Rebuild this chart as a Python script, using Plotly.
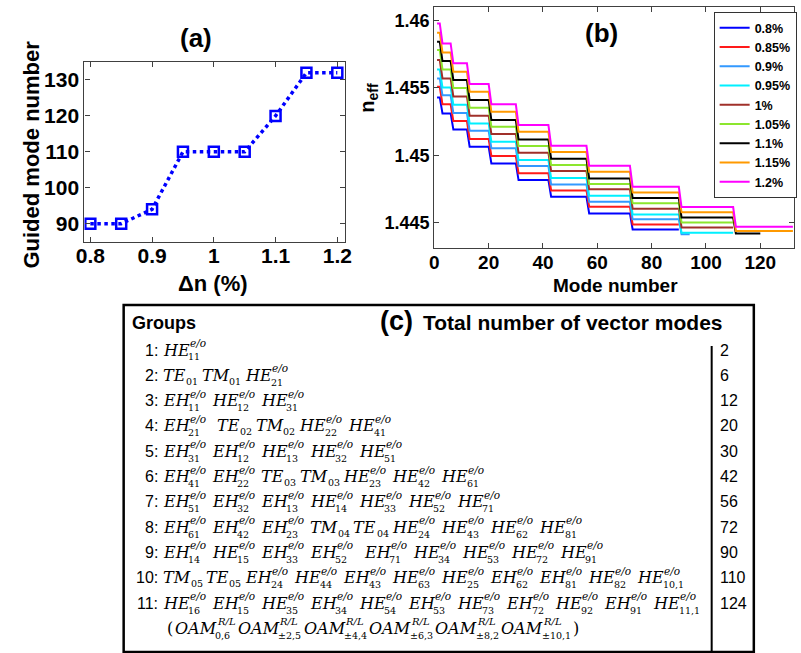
import plotly.graph_objects as go

W, H = 801, 653
SANS = "Liberation Sans, Arial, sans-serif"
MATH = "DejaVu Serif, serif"

# ---------------- panel (a) data ----------------
delta_n_pct = [0.8, 0.85, 0.9, 0.95, 1.0, 1.05, 1.1, 1.15, 1.2]
guided_mode_number = [90, 90, 94, 110, 110, 110, 120, 132, 132]

# ---------------- panel (b) data ----------------
legend_labels = ["0.8%", "0.85%", "0.9%", "0.95%", "1%", "1.05%", "1.1%", "1.15%", "1.2%"]
line_colors = ["#0000FF", "#FF1A1A", "#3399FF", "#00F0FF", "#A0302A",
               "#8CE62E", "#000000", "#FF9900", "#FF00FF"]
group_last_mode = [2, 6, 12, 20, 30, 42, 56, 72, 90, 110, 132]
neff_0p80 = [1.45430, 1.45311, 1.45192, 1.45063, 1.44939, 1.44815, 1.44691, 1.44567, 1.44448]
neff_0p85 = [1.45509, 1.45378, 1.45254, 1.45120, 1.44994, 1.44865, 1.44738, 1.44617, 1.44485]
neff_0p90 = [1.45571, 1.45445, 1.45313, 1.45182, 1.45051, 1.44919, 1.44783, 1.44654, 1.44523, 1.44413]
neff_0p95 = [1.45638, 1.45504, 1.45375, 1.45236, 1.45100, 1.44964, 1.44830, 1.44699, 1.44560, 1.44423]
neff_1p00 = [1.45707, 1.45571, 1.45437, 1.45294, 1.45157, 1.45018, 1.44882, 1.44746, 1.44602, 1.44463]
neff_1p05 = [1.45782, 1.45638, 1.45499, 1.45353, 1.45212, 1.45068, 1.44927, 1.44785, 1.44642, 1.44500]
neff_1p10 = [1.45844, 1.45700, 1.45559, 1.45410, 1.45261, 1.45117, 1.44974, 1.44827, 1.44681, 1.44537, 1.44418]
neff_1p15 = [1.45911, 1.45764, 1.45621, 1.45472, 1.45323, 1.45175, 1.45023, 1.44877, 1.44723, 1.44575, 1.44436]
neff_1p20 = [1.45980, 1.45831, 1.45683, 1.45529, 1.45378, 1.45224, 1.45070, 1.44922, 1.44765, 1.44614, 1.44468]
neff_levels = [neff_0p80, neff_0p85, neff_0p90, neff_0p95, neff_1p00,
               neff_1p05, neff_1p10, neff_1p15, neff_1p20]

# ---------------- panel (c) data ----------------
header_left = "Groups"
header_right = "Total number of vector modes"
group_labels = ["1:", "2:", "3:", "4:", "5:", "6:", "7:", "8:", "9:", "10:", "11:"]
group_mode_lists = [
    ["HE_11^e/o"],
    ["TE_01", "TM_01", "HE_21^e/o"],
    ["EH_11^e/o", "HE_12^e/o", "HE_31^e/o"],
    ["EH_21^e/o", " ", "TE_02", "TM_02", "HE_22^e/o", "HE_41^e/o"],
    ["EH_31^e/o", "EH_12^e/o", "HE_13^e/o", "HE_32^e/o", "HE_51^e/o"],
    ["EH_41^e/o", "EH_22^e/o", "TE_03", "TM_03", "HE_23^e/o", "HE_42^e/o", "HE_61^e/o"],
    ["EH_51^e/o", "EH_32^e/o", "EH_13^e/o", "HE_14^e/o", "HE_33^e/o", "HE_52^e/o", "HE_71^e/o"],
    ["EH_61^e/o", "EH_42^e/o", "EH_23^e/o", "TM_04", "TE_04", "HE_24^e/o", "HE_43^e/o",
     "HE_62^e/o", "HE_81^e/o"],
    ["EH_14^e/o", "HE_15^e/o", "EH_33^e/o", "EH_52^e/o", " ", "EH_71^e/o", "HE_34^e/o",
     "HE_53^e/o", "HE_72^e/o", "HE_91^e/o"],
    ["TM_05", "TE_05", "EH_24^e/o", "HE_44^e/o", "EH_43^e/o", "HE_63^e/o", "HE_25^e/o",
     "EH_62^e/o", "EH_81^e/o", "HE_82^e/o", "HE_10,1^e/o"],
    ["HE_16^e/o", "EH_15^e/o", "HE_35^e/o", "EH_34^e/o", "HE_54^e/o", "EH_53^e/o", "HE_73^e/o",
     "EH_72^e/o", "HE_92^e/o", "EH_91^e/o", "HE_11,1^e/o"],
]
oam_line = ["(", "OAM_0,6^R/L", "OAM_±2,5^R/L", "OAM_±4,4^R/L", "OAM_±6,3^R/L",
            "OAM_±8,2^R/L", "OAM_±10,1^R/L", ")"]
total_vector_modes = [2, 6, 12, 20, 30, 42, 56, 72, 90, 110, 124]


# ---------------- helpers ----------------
def fx(px):
    return px / W


def fy(py):
    return 1 - py / H


annotations = []


def add_text(px, py, text, size, family=SANS, weight="normal", xanchor="left",
             yanchor="middle", angle=0):
    annotations.append(dict(
        x=fx(px), y=fy(py), xref="paper", yref="paper", text=text, showarrow=False,
        xanchor=xanchor, yanchor=yanchor, textangle=angle, borderpad=0, borderwidth=0,
        font=dict(family=family, size=size, color="black", weight=weight)))


CW = {'H': .862, 'E': .729, 'T': .714, 'M': 1.022, 'O': .786, 'A': .739, 'L': .702,
      'R': .789, 'e': .592, 'o': .602, '/': .337, ',': .318, '±': .838, '(': .479,
      ')': .479, ' ': .318}


def text_w(s, size):
    return sum(CW.get(c, .636) for c in s) * size


BASE, SUB = 16, 9.5


def layout_row(tokens, x0, yc):
    x = x0
    for tok in tokens:
        if tok == " ":
            x += 5
            continue
        if tok in ("(", ")"):
            add_text(x, yc, tok, BASE, family=MATH)
            x += text_w(tok, BASE) + 0.5
            continue
        base, rest = tok.split("_")
        if "^" in rest:
            sub, sup = rest.split("^")
        else:
            sub, sup = rest, ""
        add_text(x, yc, "<i>%s</i>" % base, BASE, family=MATH)
        bx = x + text_w(base, BASE)
        if sup:
            sup_size = 10 if base == "OAM" else 10.5
            add_text(bx + 2, yc - 7, "<i>%s</i>" % sup, sup_size, family=MATH)
            add_text(bx + 0.5, yc + 7, sub, SUB, family=MATH)
            end = max(bx + 2 + text_w(sup, sup_size), bx + 0.5 + text_w(sub, SUB))
            gap = 3 if base == "OAM" else 6.5
        else:
            add_text(bx + 0.5, yc + 6, sub, SUB, family=MATH)
            end = bx + 0.5 + text_w(sub, SUB)
            gap = 4
        x = end + gap


fig = go.Figure()

# panel (a)
fig.add_trace(go.Scatter(
    x=delta_n_pct, y=guided_mode_number, mode="lines+markers", showlegend=False,
    line=dict(color="#0000FF", width=3.5, dash="dot"),
    marker=dict(symbol="square-open", size=10, color="#0000FF", line=dict(width=2.5, color="#0000FF")),
    xaxis="x", yaxis="y"))

# panel (b)
for label, color, levels, n_modes in zip(legend_labels, line_colors, neff_levels, guided_mode_number):
    modes = list(range(1, n_modes + 1))
    vals = []
    for n in modes:
        g = next(i for i, e in enumerate(group_last_mode) if n <= e)
        vals.append(levels[g])
    fig.add_trace(go.Scatter(x=modes, y=vals, mode="lines", name=label,
                             line=dict(color=color, width=2), xaxis="x2", yaxis="y2"))

axis_common = dict(showline=True, linecolor="#404040", linewidth=1.3, mirror="ticks",
                   ticks="inside", ticklen=5, tickcolor="#404040", showgrid=False,
                   zeroline=False)

tickfont_a = dict(family=SANS, size=21, color="black", weight="bold")
tickfont_b = dict(family=SANS, size=18, color="black", weight="bold")

fig.update_layout(
    width=W, height=H, autosize=False, margin=dict(l=0, r=0, t=0, b=0),
    paper_bgcolor="white", plot_bgcolor="white",
    xaxis=dict(domain=[fx(77), fx(343)], range=[0.7905, 1.2127],
               tickvals=[0.8, 0.9, 1.0, 1.1, 1.2], ticktext=["0.8", "0.9", "1", "1.1", "1.2"],
               tickfont=tickfont_a, anchor="y", ticklabelstandoff=-5, **axis_common),
    yaxis=dict(domain=[fy(242), fy(62)], range=[84.9, 135.0],
               tickvals=[90, 100, 110, 120, 130], tickfont=tickfont_a, anchor="x", **axis_common),
    xaxis2=dict(domain=[fx(434), 1.0], range=[0, 132.4],
                tickvals=[0, 20, 40, 60, 80, 100, 120],
                tickfont=dict(family=SANS, size=19, color="black", weight="bold"),
                anchor="y2", ticklabelstandoff=-3, **axis_common),
    yaxis2=dict(domain=[fy(248), fy(7)], range=[1.4431, 1.46102],
                tickvals=[1.445, 1.45, 1.455, 1.46], ticktext=["1.445", "1.45", "1.455", "1.46"],
                tickfont=tickfont_b, anchor="x2", **axis_common),
    legend=dict(x=fx(719), y=fy(12), xanchor="left", yanchor="top", bgcolor="white",
                bordercolor="#333333", borderwidth=1, itemwidth=30, tracegroupgap=0,
                font=dict(family=SANS, size=12.5, color="black", weight="bold")),
)

# titles
add_text(191, 38, "(a)", 26, weight="bold", xanchor="center")
add_text(23, 155, "Guided mode number", 22, weight="bold", xanchor="center", angle=-90)
add_text(208, 284, "Δn (%)", 22, weight="bold", xanchor="center")
add_text(605, 33, "(b)", 26, weight="bold", xanchor="center")
add_text(367, 98, "n<sub>eff</sub>", 20, weight="bold", xanchor="center", angle=-90)
add_text(619, 285, "Mode number", 19, weight="bold", xanchor="center")

# panel (c)
add_text(125, 323, header_left, 18, weight="bold")
add_text(395, 321, "(c)", 27, weight="bold", xanchor="center")
add_text(729, 323, header_right, 21, weight="bold", xanchor="right")

row_y0, row_dy = 350, 25.3
for k, (lab, toks, tot) in enumerate(zip(group_labels, group_mode_lists, total_vector_modes)):
    yc = row_y0 + row_dy * k
    add_text(152, yc, lab, 16, xanchor="right")
    layout_row(toks, 157, yc)
    add_text(726, yc, str(tot), 16)
layout_row(oam_line, 161, row_y0 + row_dy * 11)

shapes = [
    dict(type="rect", xref="paper", yref="paper", x0=fx(117), x1=fx(760), y0=fy(652), y1=fy(305),
         line=dict(color="black", width=2.5)),
    dict(type="line", xref="paper", yref="paper", x0=fx(717), x1=fx(717), y0=fy(652), y1=fy(346),
         line=dict(color="black", width=2)),
]
fig.update_layout(annotations=annotations, shapes=shapes)

fig.write_html("out.html")
